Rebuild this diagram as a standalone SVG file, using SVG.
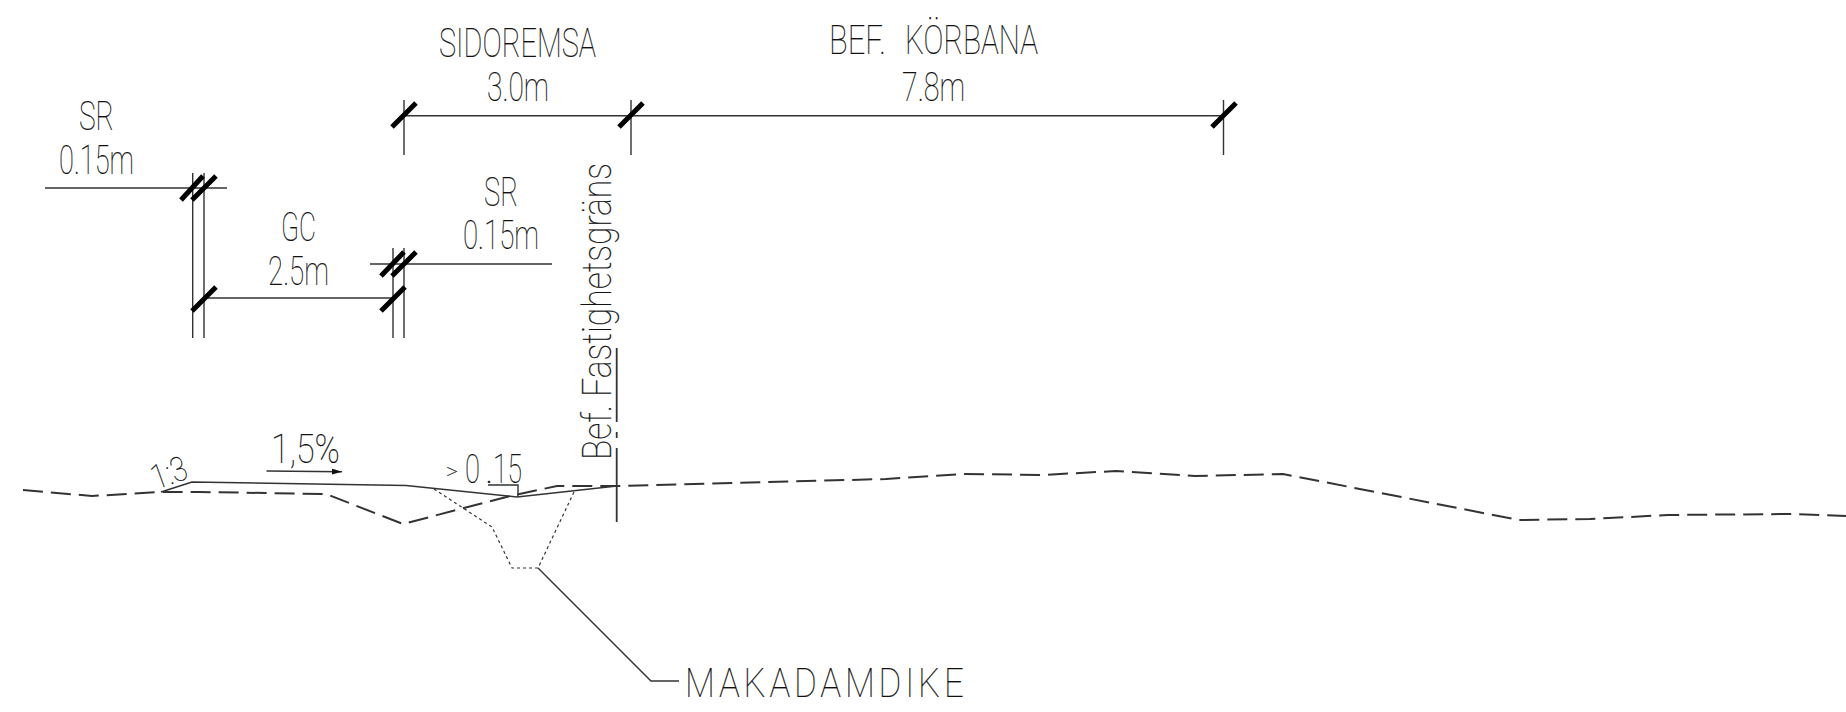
<svg xmlns="http://www.w3.org/2000/svg" width="1846" height="712" viewBox="0 0 1846 712">
<style>
text{font-family:"Roboto","Liberation Sans",sans-serif;font-weight:100;font-size:40px;fill:#111;stroke:#111;stroke-width:.2px}
.l{fill:none;stroke:#333;stroke-width:1.4}
.t{fill:none;stroke:#000;stroke-width:5}
.g{fill:none;stroke:#333;stroke-width:2;stroke-dasharray:20 8}
.d{fill:none;stroke:#333;stroke-width:1.2;stroke-dasharray:3 3}
</style>
<defs><marker id="ah" viewBox="0 0 10 6" refX="10" refY="3" markerWidth="10" markerHeight="6" markerUnits="userSpaceOnUse" orient="auto"><path d="M0 0L10 3L0 6Z" fill="#111"/></marker></defs>
<rect width="1846" height="712" fill="#fff"/>
<g id="connectors">
<path class="l" d="M404 100V155M631 100V155M1223.5 100V155M404 115.7H1224"/>
<path class="t" d="M392 127L416 103M619 127L643 103M1212 127L1236 103"/>
<path class="l" d="M45 188H227M192.7 173V338M204 173V338M204 298H393M370 264H552M393 248V338M404 248V338"/>
<path class="t" d="M181 200L203 176M192 200L216 176M192 311L216 287M381 276L404 252M392 276L416 252M381 311L405 287"/>
<path class="g" d="M23 490L92 496L161 492L200 492L326 494L403 524L510 496L557 486L617 486L886 479L964 474L1042 475L1116 471L1195 476L1283 474L1519 520L1590 519L1668 515L1793 514L1846 516"/>
<path class="l" style="stroke-width:1.6" d="M161 492L192 482L406 485.5L517 497L617 486"/>
<path class="d" d="M434 489L492 527L512 568H538L574 492"/>
<path class="l" d="M538 568L651 681H679M488 485H518V497"/>
<path class="l" style="stroke-width:1.8" d="M616.7 348V422M616.7 432V438M616.7 448V522"/>
<path class="l" d="M266.500 471L342 471.700" marker-end="url(#ah)"/>
</g>
<g id="label-sidoremsa"><text x="439" y="57" textLength="157" lengthAdjust="spacingAndGlyphs">SIDOREMSA</text><text x="487" y="101" textLength="62" lengthAdjust="spacingAndGlyphs">3.0m</text></g>
<g id="label-korbana"><text x="829" y="54" textLength="57" lengthAdjust="spacingAndGlyphs">BEF.</text><text x="905" y="54" textLength="133" lengthAdjust="spacingAndGlyphs">KÖRBANA</text><text x="902" y="101" textLength="63" lengthAdjust="spacingAndGlyphs">7.8m</text></g>
<g id="label-sr1"><text x="79" y="130" textLength="35" lengthAdjust="spacingAndGlyphs">SR</text><text x="59" y="174" textLength="75" lengthAdjust="spacingAndGlyphs">0.15m</text></g>
<g id="label-gc"><text x="281" y="241" textLength="35" lengthAdjust="spacingAndGlyphs">GC</text><text x="268" y="285" textLength="61" lengthAdjust="spacingAndGlyphs">2.5m</text></g>
<g id="label-sr2"><text x="484" y="206" textLength="34" lengthAdjust="spacingAndGlyphs">SR</text><text x="463" y="249" textLength="76" lengthAdjust="spacingAndGlyphs">0.15m</text></g>
<g id="label-fastighet"><text transform="translate(611 460) rotate(-90)" textLength="297" lengthAdjust="spacingAndGlyphs">Bef. Fastighetsgräns</text></g>
<g id="label-slope"><text transform="translate(156 490) rotate(-20)" style="font-size:34px" textLength="36" lengthAdjust="spacingAndGlyphs">1:3</text><text x="271" y="463" textLength="69" lengthAdjust="spacingAndGlyphs">1,5%</text></g>
<g id="label-height"><text x="446" y="479" style="font-size:22px" textLength="12" lengthAdjust="spacingAndGlyphs">&gt;</text><text x="465" y="483" style="font-size:40px" textLength="15" lengthAdjust="spacingAndGlyphs">0</text><text x="485" y="483" style="font-size:40px">.</text><text x="493" y="483" style="font-size:40px" textLength="29" lengthAdjust="spacingAndGlyphs">15</text></g>
<g id="label-makadamdike"><text transform="translate(685 697) scale(.85 1)" style="font-size:41px" textLength="328" lengthAdjust="spacing">MAKADAMDIKE</text></g>
</svg>
